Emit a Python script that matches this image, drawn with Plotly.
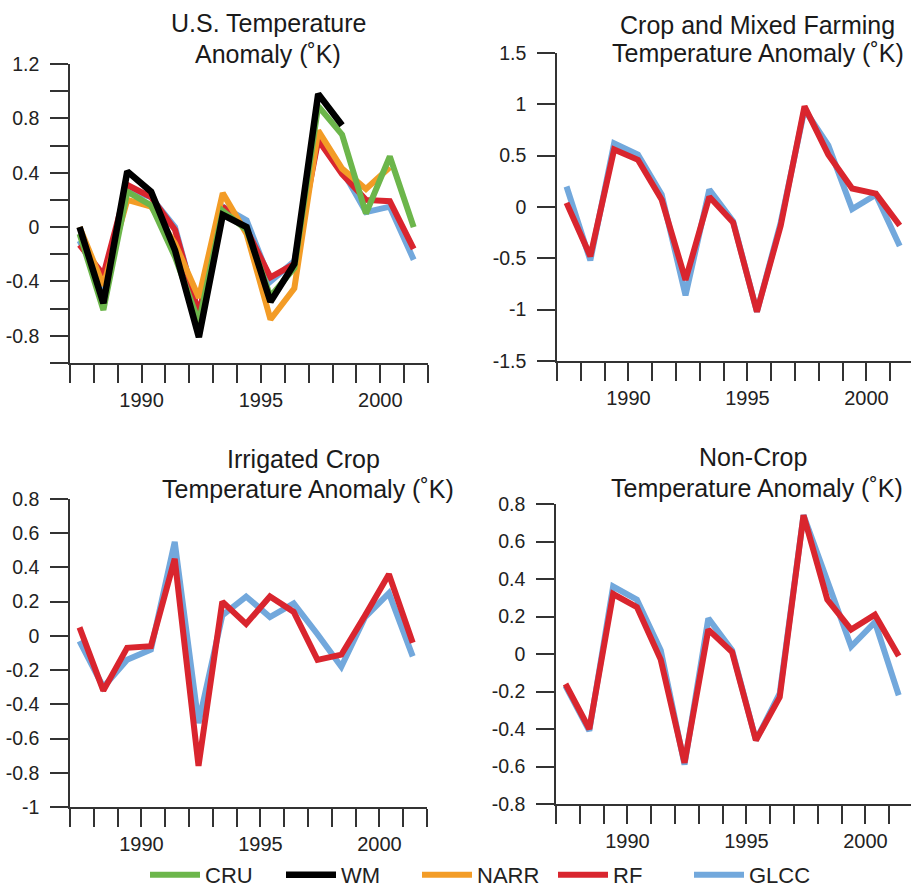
import plotly.graph_objects as go

# ---------------- data ----------------
years = list(range(1987, 2002))          # annual anomalies 1987-2001
x_pos = [y + 0.4 for y in years]         # plotted near mid-year

# Panel 1: U.S. temperature anomaly
us_cru  = [-0.05, -0.61, 0.26, 0.16, -0.22, -0.70, 0.12, -0.02, -0.51, -0.30, 0.89, 0.68, 0.10, 0.52, 0.00]
us_wm   = [0.00, -0.56, 0.41, 0.26, -0.17, -0.81, 0.09, 0.00, -0.55, -0.27, 0.98, 0.75]
us_narr = [0.00, -0.43, 0.20, 0.15, -0.12, -0.52, 0.25, -0.05, -0.68, -0.45, 0.71, 0.43, 0.28, 0.44]
us_rf   = [-0.13, -0.35, 0.31, 0.22, -0.02, -0.64, 0.15, -0.02, -0.37, -0.27, 0.64, 0.39, 0.20, 0.19, -0.16]
us_glcc = [-0.10, -0.45, 0.28, 0.22, 0.00, -0.65, 0.15, 0.05, -0.40, -0.25, 0.66, 0.42, 0.11, 0.15, -0.24]

# Panel 2: Crop and mixed farming
cm_glcc = [0.20, -0.52, 0.62, 0.51, 0.12, -0.86, 0.17, -0.14, -1.02, -0.15, 0.95, 0.60, -0.02, 0.12, -0.38]
cm_rf   = [0.04, -0.48, 0.56, 0.46, 0.07, -0.71, 0.10, -0.15, -1.02, -0.18, 0.98, 0.51, 0.18, 0.13, -0.18]

# Panel 3: Irrigated crop
ic_glcc = [-0.03, -0.30, -0.14, -0.08, 0.55, -0.51, 0.12, 0.23, 0.11, 0.19, 0.01, -0.18, 0.11, 0.25, -0.12]
ic_rf   = [0.05, -0.32, -0.07, -0.06, 0.45, -0.76, 0.20, 0.07, 0.23, 0.14, -0.14, -0.11, 0.12, 0.36, -0.04]

# Panel 4: Non-crop
nc_glcc = [-0.17, -0.41, 0.36, 0.29, 0.02, -0.59, 0.19, 0.02, -0.46, -0.21, 0.74, 0.40, 0.04, 0.17, -0.22]
nc_rf   = [-0.16, -0.40, 0.32, 0.25, -0.03, -0.58, 0.13, 0.01, -0.46, -0.23, 0.74, 0.29, 0.13, 0.21, -0.01]

x_tick_years = list(range(1987, 2003))
x_tick_labels = [str(y) if y in (1990, 1995, 2000) else "" for y in x_tick_years]

titles = [
    ("U.S. Temperature", "Anomaly (˚K)"),
    ("Crop and Mixed Farming", "Temperature Anomaly (˚K)"),
    ("Irrigated Crop", "Temperature Anomaly (˚K)"),
    ("Non-Crop", "Temperature Anomaly (˚K)"),
]

# ---------------- style ----------------
FONT = "Arial, Liberation Sans, Helvetica, sans-serif"
COL = {"CRU": "#6cb64b", "WM": "#000000", "NARR": "#f39c26", "RF": "#d9252e", "GLCC": "#72a8dc"}
LW = {"CRU": 6, "WM": 6.5, "NARR": 6, "RF": 6, "GLCC": 6}
RANK = {"CRU": 1, "WM": 2, "NARR": 3, "RF": 4, "GLCC": 5}

W, H = 911, 896
def fx(px): return px / W
def fy(py): return 1 - py / H

fig = go.Figure()

def add(name, ys, axis, show):
    xs = x_pos[:len(ys)]
    fig.add_trace(go.Scatter(
        x=xs, y=ys, mode="lines", name=name,
        line=dict(color=COL[name], width=LW[name]),
        xaxis="x" + axis, yaxis="y" + axis,
        legendgroup=name, showlegend=show, legendrank=RANK[name],
    ))

# panel 1 (draw order: blue, red, orange, green, black)
add("GLCC", us_glcc, "", True)
add("RF", us_rf, "", True)
add("NARR", us_narr, "", True)
add("CRU", us_cru, "", True)
add("WM", us_wm, "", True)
# panel 2
add("GLCC", cm_glcc, "2", False)
add("RF", cm_rf, "2", False)
# panel 3
add("GLCC", ic_glcc, "3", False)
add("RF", ic_rf, "3", False)
# panel 4
add("GLCC", nc_glcc, "4", False)
add("RF", nc_rf, "4", False)

axis_common = dict(showline=True, linecolor="#333333", linewidth=1.6,
                   ticks="outside", ticklen=18, tickwidth=1.6, tickcolor="#333333",
                   showgrid=False, zeroline=False, automargin=False, fixedrange=True)

def xaxis(dom, rng, anchor):
    return dict(domain=dom, range=rng, anchor=anchor, tickmode="array",
                tickvals=x_tick_years, ticktext=x_tick_labels,
                tickfont=dict(family=FONT, size=20, color="#222222"), **axis_common)

def yaxis(dom, rng, anchor, vals, labels):
    return dict(domain=dom, range=rng, anchor=anchor, tickmode="array",
                tickvals=vals, ticktext=labels, ticklabelstandoff=7,
                tickfont=dict(family=FONT, size=19.5, color="#222222"), **axis_common)

def fmt(v):
    return "%g" % round(v, 2)

# y tick definitions
y1_vals = [round(-1.0 + 0.2 * i, 1) for i in range(12)]
y1_lab = [fmt(v) if abs(round(v / 0.4) * 0.4 - v) < 1e-6 and v > -1.0 else "" for v in y1_vals]
y2_vals = [-1.5, -1, -0.5, 0, 0.5, 1, 1.5]
y2_lab = [fmt(v) for v in y2_vals]
y3_vals = [round(-1.0 + 0.2 * i, 1) for i in range(10)]
y3_lab = [fmt(v) for v in y3_vals]
y4_vals = [round(-0.8 + 0.2 * i, 1) for i in range(9)]
y4_lab = [fmt(v) for v in y4_vals]

x_right2 = 1987 + (911 - 557) / 23.8
x_right4 = 1987 + (911 - 556) / 23.8

fig.update_layout(
    width=W, height=H,
    margin=dict(l=0, r=0, t=0, b=0),
    paper_bgcolor="white", plot_bgcolor="white",
    font=dict(family=FONT, color="#222222"),
    xaxis=xaxis([fx(70), fx(428)], [1987, 2002], "y"),
    yaxis=yaxis([fy(363), fy(64)], [-1.0, 1.2], "x", y1_vals, y1_lab),
    xaxis2=xaxis([fx(557), 1.0], [1987, x_right2], "y2"),
    yaxis2=yaxis([fy(361), fy(53)], [-1.5, 1.5], "x2", y2_vals, y2_lab),
    xaxis3=xaxis([fx(70), fx(427)], [1987, 2002], "y3"),
    yaxis3=yaxis([fy(807), fy(499)], [-1.0, 0.8], "x3", y3_vals, y3_lab),
    xaxis4=xaxis([fx(556), 1.0], [1987, x_right4], "y4"),
    yaxis4=yaxis([fy(804), fy(504)], [-0.8, 0.8], "x4", y4_vals, y4_lab),
    legend=dict(orientation="h", x=fx(145), xanchor="left", y=0, yanchor="bottom",
                font=dict(family=FONT, size=22, color="#222222"),
                itemwidth=50, entrywidth=71, entrywidthmode="pixels",
                bgcolor="rgba(0,0,0,0)", traceorder="normal"),
    showlegend=True,
)

# titles (two lines each)
title_pos = [((268, 23), (268, 54)), ((757, 25), (758, 53)),
             ((303, 459), (308, 489)), ((753, 457), (757, 488))]
for (l1, l2), ((x1, y1), (x2, y2)) in zip(titles, title_pos):
    for txt, xx, yy in ((l1, x1, y1), (l2, x2, y2)):
        fig.add_annotation(text=txt, x=fx(xx), y=fy(yy), xref="paper", yref="paper",
                           xanchor="center", yanchor="middle", showarrow=False,
                           font=dict(family=FONT, size=25, color="#1a1a1a"))

page_fix = ("document.documentElement.style.margin='0';document.body.style.margin='0';"
            "var gd=document.querySelector('.plotly-graph-div');"
            "gd.style.overflow='hidden';")

fig.write_html("out.html", config={"displayModeBar": False}, post_script=page_fix)
